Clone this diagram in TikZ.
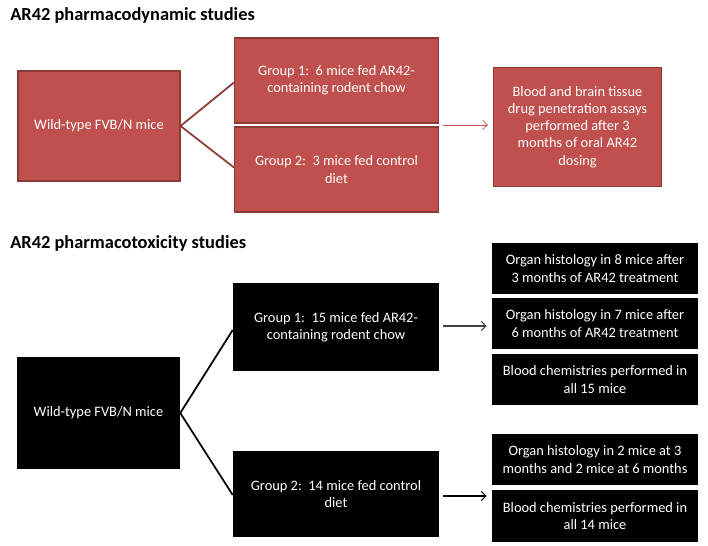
\documentclass[tikz,border=0pt]{standalone}
\usepackage{fontspec}
\setmainfont{Carlito}
\usetikzlibrary{arrows.meta,calc}
\definecolor{boxred}{HTML}{C0504D}
\definecolor{edgered}{HTML}{8C3A38}
\tikzset{
  redbox/.style={draw=edgered, line width=0.8pt, fill=boxred, text=white, align=center, inner sep=0pt, font=\fontsize{10.8}{12.9}\selectfont},
  blackbox/.style={fill=black, text=white, align=center, inner sep=0pt, font=\fontsize{10.8}{12.9}\selectfont},
  title/.style={anchor=west, font=\fontsize{13.8}{16}\selectfont\bfseries, inner sep=0pt},
  redlink/.style={draw=edgered, line width=1.3pt},
  blacklink/.style={draw=black, line width=1.3pt},
  redarrow/.style={draw=boxred, line width=0.6pt, -{Straight Barb[length=3.5pt,width=7pt]}},
  blackarrow/.style={draw=black, line width=0.8pt, -{Straight Barb[length=3.5pt,width=7pt]}},
}
\begin{document}
\begin{tikzpicture}[x=0.75pt,y=-0.75pt]
\useasboundingbox (0,0) rectangle (708,546);
% titles
\node[title] (t1) at (10,15) {AR42 pharmacodynamic studies};
\node[title] (t2) at (10,243) {AR42 pharmacotoxicity studies};
% red section
\node[redbox, minimum width=162*0.75pt, minimum height=110*0.75pt] (wt1) at (99,126) {Wild-type FVB/N mice};
\node[redbox, minimum width=204*0.75pt, minimum height=85*0.75pt] (g1) at (336.5,80.5) {Group 1:\ \ 6 mice fed AR42-\\containing rodent chow};
\node[redbox, minimum width=204*0.75pt, minimum height=85*0.75pt] (g2) at (336.5,169.5) {Group 2:\ \ 3 mice fed control\\diet};
\node[redbox, minimum width=168*0.75pt, minimum height=119*0.75pt] (bb) at (577.5,127) {Blood and brain tissue\\drug penetration assays\\performed after 3\\months of oral AR42\\dosing};
\draw[redlink] (wt1.east) -- ($(g1.west)+(0,2)$);
\draw[redlink] (wt1.east) -- ($(g2.west)+(0,-2)$);
\coordinate (ra) at ($(g1.south east)!0.5!(g2.north east)+(4,0)$);
\coordinate (rb) at ($(bb.west|-ra)+(-5,0)$);
\draw[redarrow] (ra) -- (rb);
% black section
\node[blackbox, minimum width=163*0.75pt, minimum height=112*0.75pt] (wt2) at (98.5,413) {Wild-type FVB/N mice};
\node[blackbox, minimum width=206*0.75pt, minimum height=88*0.75pt] (tg1) at (336,327) {Group 1:\ \ 15 mice fed AR42-\\containing rodent chow};
\node[blackbox, minimum width=206*0.75pt, minimum height=86*0.75pt] (tg2) at (336,494) {Group 2:\ \ 14 mice fed control\\diet};
\node[blackbox, minimum width=206*0.75pt, minimum height=51*0.75pt] (r1) at (595,268.5) {Organ histology in 8 mice after\\3 months of AR42 treatment};
\node[blackbox, minimum width=206*0.75pt, minimum height=51*0.75pt] (r2) at (595,323.5) {Organ histology in 7 mice after\\6 months of AR42 treatment};
\node[blackbox, minimum width=206*0.75pt, minimum height=51*0.75pt] (r3) at (595,379.5) {Blood chemistries performed in\\all 15 mice};
\node[blackbox, minimum width=206*0.75pt, minimum height=51*0.75pt] (r4) at (595,459.5) {Organ histology in 2 mice at 3\\months and 2 mice at 6 months};
\node[blackbox, minimum width=206*0.75pt, minimum height=52*0.75pt] (r5) at (595,516) {Blood chemistries performed in\\all 14 mice};
\draw[blacklink] (wt2.east) -- ($(tg1.west)+(0,3)$);
\draw[blacklink] (wt2.east) -- ($(tg2.west)+(0,1)$);
\coordinate (ba) at ($(tg1.east)+(4,-1)$);
\coordinate (bb2) at ($(r2.west|-ba)+(-5,0)$);
\draw[blackarrow, draw=black!75] (ba) -- (bb2);
\coordinate (bc) at ($(tg2.east)+(4,2)$);
\coordinate (bd) at ($(r5.west|-bc)+(-5,0)$);
\draw[blackarrow] (bc) -- (bd);
\end{tikzpicture}
\end{document}
